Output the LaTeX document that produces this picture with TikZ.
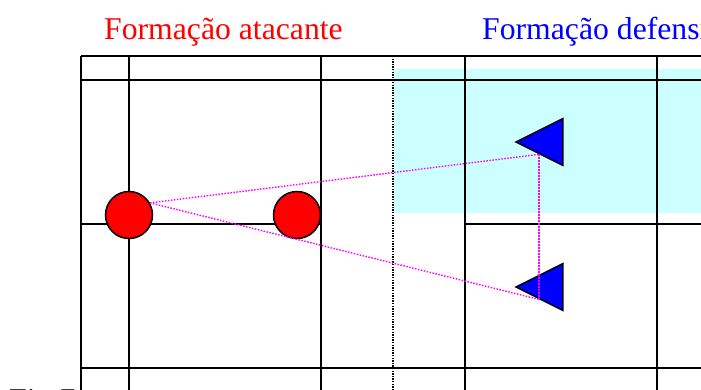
\documentclass[tikz,border=0pt]{standalone}
\usepackage{fontspec}
\setmainfont{Liberation Serif}
\usepackage{xcolor}
\usepackage{tikz}
\usetikzlibrary{shapes.geometric,calc}
\definecolor{zonecyan}{rgb}{0.80,1.00,1.00}
\definecolor{atkred}{rgb}{1.00,0.00,0.00}
\definecolor{defblue}{rgb}{0.00,0.00,1.00}
\definecolor{linkmag}{rgb}{1.00,0.00,1.00}

\begin{document}
\begin{tikzpicture}[x=1pt, y=-1pt,
      grid/.style={line width=2pt, black},
      midline/.style={line width=1.2pt, black, dash pattern=on 1.3pt off 1.3pt},
      atk/.style={circle, draw, line width=1.5pt, fill=atkred,
                  minimum size=47pt, inner sep=0pt},
      def/.style={isosceles triangle, isosceles triangle stretches,
                  shape border rotate=180, draw, line width=1.5pt,
                  fill=defblue, minimum width=47pt, minimum height=47pt,
                  inner sep=0pt, anchor=apex},
      link/.style={line width=1.4pt, linkmag, dash pattern=on 1.5pt off 1.5pt},
      title/.style={anchor=base west, inner sep=0pt,
                    font=\fontsize{31.7}{36}\selectfont}
  ]
    \useasboundingbox (0,0) rectangle (701,389);
    \clip (0,0) rectangle (701,389);
    % zona defensiva
    \fill[zonecyan] (393,69) rectangle (701,213);
    % campo
    \draw[grid] (81,56) -- (701,56);
    \draw[grid] (81,80) -- (701,80);
    \draw[grid] (81,224) -- (321,224);
    \draw[grid] (465,224) -- (701,224);
    \draw[grid] (81,368) -- (701,368);
    \foreach \x in {81,129,321,465,657}
      \draw[grid] (\x,56) -- (\x,395);
    \draw[midline] (393,56) -- (393,395);
    % jogadores
    \node[atk] (a1) at (129,215) {};
    \node[atk] (a2) at (297,215) {};
    \node[def] (d1) at (514,142) {};
    \node[def] (d2) at (514,287) {};
    \coordinate (d1s) at ($(d1.apex)!0.5!(d1.left corner)$);
    \coordinate (d2s) at ($(d2.apex)!0.5!(d2.left corner)$);
    \draw[link] (a1.30) -- (d1s);
    \draw[link] (a1.30) -- (d2s);
    \draw[link] (d1s) -- (d2s);
    % textos
    \node[title, text=atkred] (tatk) at (104,39) {Formação atacante};
    \node[title, text=defblue] (tdef) at (482,39) {Formação defensiva};
    \node[title] (fig) at (9,410) {Fig 7};
  \end{tikzpicture}
\end{document}
